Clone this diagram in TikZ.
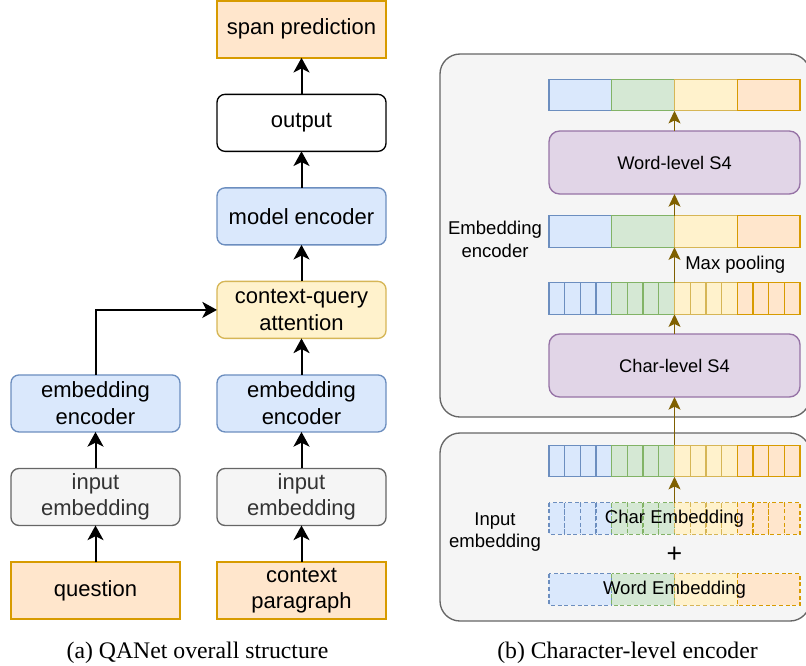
\documentclass[tikz,border=0pt]{standalone}
\usepackage{fontspec}
\setmainfont{Liberation Serif}
\setsansfont{Liberation Sans}
\usetikzlibrary{arrows.meta, positioning}
\definecolor{softblue}{HTML}{DAE8FC}
\definecolor{blueline}{HTML}{6C8EBF}
\definecolor{softgreen}{HTML}{D5E8D4}
\definecolor{greenline}{HTML}{82B366}
\definecolor{softyellow}{HTML}{FFF2CC}
\definecolor{yellowline}{HTML}{D6B656}
\definecolor{softorange}{HTML}{FFE6CC}
\definecolor{orangeline}{HTML}{D79B00}
\definecolor{softpurple}{HTML}{E1D5E7}
\definecolor{purpleline}{HTML}{9673A6}
\definecolor{softgrey}{HTML}{F5F5F5}
\definecolor{greyline}{HTML}{666666}
\definecolor{greytext}{HTML}{333333}
\definecolor{pathbrown}{HTML}{7F6000}
\tikzset{
  box/.style={
    rectangle, rounded corners=6pt,
    draw=black, fill=white, line width=1pt,
    minimum width=126.75pt, minimum height=42.75pt,
    inner sep=0pt, outer sep=0pt,
    align=center, font=\sffamily\fontsize{16.5}{20}\selectfont
  },
  bluebox/.style={box, fill=softblue, draw=blueline},
  yellowbox/.style={box, fill=softyellow, draw=yellowline},
  greybox/.style={box, fill=softgrey, draw=greyline, text=greytext},
  orangebox/.style={box, sharp corners, fill=softorange, draw=orangeline, line width=1.5pt},
  s4box/.style={box, fill=softpurple, draw=purpleline, rounded corners=8pt,
                minimum width=188.25pt, minimum height=47.25pt,
                font=\sffamily\fontsize{13.7}{17}\selectfont},
  panel/.style={draw=greyline, fill=softgrey, line width=1pt, rounded corners=15pt},
  bar/.style={rectangle, minimum width=188.25pt, minimum height=23.625pt, inner sep=0pt, outer sep=0pt},
  cell/.style={line width=1pt},
  dashcell/.style={cell, dash pattern=on 3pt off 2pt},
  tag/.style={font=\sffamily\fontsize{13.9}{17}\selectfont, align=center, inner sep=0pt},
  arrow/.style={-{Stealth[length=11pt, width=12pt, inset=3pt]}, line width=1.5pt},
  flow/.style={-{Stealth[length=9.5pt, width=9pt, inset=2.2pt]}, line width=1pt, draw=pathbrown, fill=pathbrown},
  caption/.style={font=\fontsize{17.8}{20}\selectfont},
}

\begin{document}
\begin{tikzpicture}[x=0.75pt, y=-0.75pt, node distance=27.4pt]
  \useasboundingbox (0,0) rectangle (806,665);
  \clip (0,0) rectangle (806,665);

  % (a) QANet overall structure
  \node[orangebox] (question) at (95.5,590.5) {question};
  \node[greybox, above=of question] (qinput) {input\\embedding};
  \node[bluebox, above=of qinput] (qenc) {embedding\\encoder};

  \node[orangebox] (context) at (301.5,590.5) {context\\paragraph};
  \node[greybox, above=of context] (cinput) {input\\embedding};
  \node[bluebox, above=of cinput] (cenc) {embedding\\encoder};
  \node[yellowbox, above=of cenc] (cqatt) {context-query\\attention};
  \node[bluebox, above=of cqatt] (modenc) {model encoder};
  \node[box, above=of modenc] (out) {output};
  \node[orangebox, above=of out] (span) {span prediction};

  \foreach \from/\to in {question/qinput, qinput/qenc, context/cinput, cinput/cenc,
                         cenc/cqatt, cqatt/modenc, modenc/out, out/span}
    \draw[arrow] (\from) -- (\to);
  \draw[arrow] (qenc.north) |- (cqatt.west);

  \node[caption] (capa) at (197.5,653) {(a) QANet overall structure};

  % (b) Character-level encoder
  \draw[panel] (440,54) rectangle (810,417);
  \draw[panel] (440,433) rectangle (810,621);

  \node[bar] (wordout) at (674.5,95) {};
  \node[s4box] (words4) at (674.5,162.5) {Word-level S4};
  \node[bar] (pooled) at (674.5,231.5) {};
  \node[bar] (chars) at (674.5,298.5) {};
  \node[s4box] (chars4) at (674.5,365.5) {Char-level S4};
  \node[bar] (inbar) at (674.5,461) {};
  \node[bar] (charemb) at (674.5,518.5) {};
  \node[bar] (wordemb) at (674.5,589.5) {};

  % word-level rows
  \foreach \row in {wordout, pooled}
    \foreach \g/\fc/\dc in {0/softblue/blueline, 1/softgreen/greenline, 2/softyellow/yellowline, 3/softorange/orangeline}
      \draw[cell, fill=\fc, draw=\dc] ([xshift={\g*47.0625pt}]\row.north west) rectangle ++(62.75,31.5);

  % char-level rows
  \foreach \row in {chars, inbar}
    \foreach \g/\fc/\dc in {0/softblue/blueline, 1/softgreen/greenline, 2/softyellow/yellowline, 3/softorange/orangeline}
      \foreach \k in {0,...,3}
        \draw[cell, fill=\fc, draw=\dc] ([xshift={(4*\g+\k)*11.765625pt}]\row.north west) rectangle ++(15.6875,31.5);

  % dashed embedding rows
  \foreach \g/\fc/\dc in {0/softblue/blueline, 1/softgreen/greenline, 2/softyellow/yellowline, 3/softorange/orangeline} {
    \foreach \k in {0,...,3}
      \draw[dashcell, fill=\fc, draw=\dc] ([xshift={(4*\g+\k)*11.765625pt}]charemb.north west) rectangle ++(15.6875,31.5);
    \draw[dashcell, fill=\fc, draw=\dc] ([xshift={\g*47.0625pt}]wordemb.north west) rectangle ++(62.75,31.5);
  }

  \node[tag] (chartext) at (charemb) {Char Embedding};
  \node[tag, font=\sffamily\fontsize{20}{20}\selectfont] (plus) at (674.5,555) {+};
  \node[tag] (wordtext) at (wordemb) {Word Embedding};
  \node[tag] (enclabel) at (495,239.5) {Embedding\\encoder};
  \node[tag] (inlabel) at (495,532) {Input\\embedding};
  \node[tag, anchor=west] (pooltext) at (685,265) {Max pooling};

  \foreach \from/\to in {charemb/inbar, inbar/chars4, chars4/chars, chars/pooled, pooled/words4, words4/wordout}
    \draw[flow] (\from.north) -- (\to.south);

  \node[caption] (capb) at (627.5,653) {(b) Character-level encoder};
\end{tikzpicture}
\end{document}
